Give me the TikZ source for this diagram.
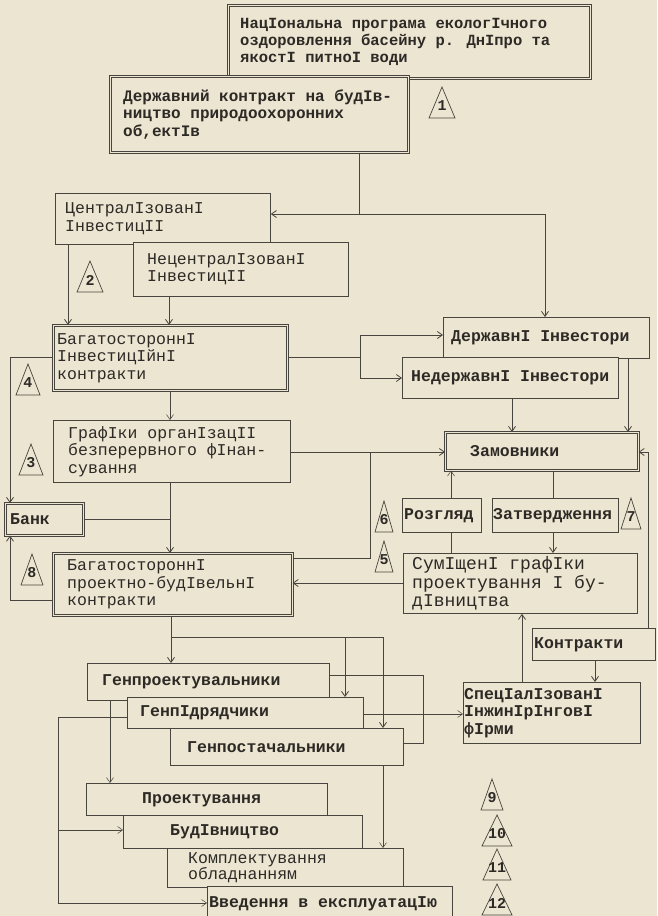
\documentclass[tikz,border=0pt]{standalone}
\usepackage{fontspec}
\newfontfamily\tw{Liberation Mono}
\usetikzlibrary{arrows.meta,positioning}
\definecolor{paper}{RGB}{236,229,210}
\definecolor{ink}{RGB}{72,68,62}
\definecolor{txt}{RGB}{45,42,38}
\newcommand\numtri[4]{%
  \node[trn] (#1) at (#2) {#3};
  \draw[tri] ([shift={(-#4,12)}]#1.center) -- ([shift={(0,-19)}]#1.center) -- ([shift={(#4,12)}]#1.center) -- cycle;}
\begin{document}
\begin{tikzpicture}[x=1pt,y=-1pt,
  bx/.style={draw=ink, fill=paper, line width=0.8pt, anchor=north west, inner sep=0pt},
  dbx/.style={bx, double=paper, double distance=1.4pt, line width=0.6pt},
  tx/.style={text=txt, font=\tw\fontsize{16.5pt}{17.5pt}\selectfont, align=left, inner sep=0pt},
  btx/.style={tx, font=\tw\bfseries\fontsize{16.5pt}{17.5pt}\selectfont},
  ln/.style={draw=ink, line width=0.8pt},
  ar/.style={ln, -{Straight Barb[length=5pt,width=7pt]}},
  tri/.style={draw=ink, line width=0.7pt},
  trn/.style={text=txt, font=\tw\bfseries\fontsize{15pt}{15pt}\selectfont, inner sep=0pt}]
\fill[paper] (0,0) rectangle (657,916);
\useasboundingbox (0,0) rectangle (657,916);

% boxes
\node[dbx, minimum width=362pt, minimum height=73pt] (A) at (228,5) {};
\node[btx, right=12pt of A.west, font=\tw\bfseries\fontsize{15.5pt}{17pt}\selectfont] (At) {НацIональна програма екологIчного\\оздоровлення басейну р. ДнIпро та\\якостI питноI води};
\node[dbx, minimum width=298pt, minimum height=76pt] (B) at (110,76) {};
\node[btx, right=13pt of B.west, font=\tw\bfseries\fontsize{16pt}{17.5pt}\selectfont] (Bt) {Державний контракт на будIв-\\ництво природоохоронних\\об,ектIв};
\node[bx, minimum width=215pt, minimum height=51pt] (C) at (55,193) {};
\node[tx, right=10pt of C.west] (Ct) {ЦентралIзованI\\IнвестицII};
\node[bx, minimum width=215pt, minimum height=54pt] (D) at (133,242) {};
\node[tx, right=14pt of D.west] (Dt) {НецентралIзованI\\IнвестицII};
\node[dbx, minimum width=234pt, minimum height=65pt] (E) at (53,325) {};
\node[tx, right=4pt of E.west] (Et) {БагатостороннI\\IнвестицIйнI\\контракти};
\node[bx, minimum width=206pt, minimum height=41pt] (F) at (443,317) {};
\node[btx, right=8pt of F.west] (Ft) {ДержавнI Iнвестори};
\node[bx, minimum width=216pt, minimum height=41pt] (G) at (402,357) {};
\node[btx, right=9pt of G.west] (Gt) {НедержавнI Iнвестори};
\node[bx, minimum width=237pt, minimum height=62pt] (K) at (53,420) {};
\node[tx, right=15pt of K.west] (Kt) {ГрафIки органIзацII\\безперервного фIнан-\\сування};
\node[dbx, minimum width=193pt, minimum height=38pt] (H) at (445,432) {};
\node[btx, right=25pt of H.west] (Ht) {Замовники};
\node[dbx, minimum width=78pt, minimum height=32pt] (Bank) at (5,503) {};
\node[btx, right=5pt of Bank.west] (Bankt) {Банк};
\node[bx, minimum width=79pt, minimum height=34pt] (R) at (402,498) {};
\node[btx, right=2pt of R.west] (Rt) {Розгляд};
\node[bx, minimum width=126pt, minimum height=34pt] (Z) at (492,498) {};
\node[btx, right=1pt of Z.west] (Zt) {Затвердження};
\node[dbx, minimum width=239pt, minimum height=62pt] (E2) at (53,553) {};
\node[tx, right=14pt of E2.west] (E2t) {БагатостороннI\\проектно-будIвельнI\\контракти};
\node[bx, minimum width=234pt, minimum height=60pt] (I) at (403,553) {};
\node[tx, right=9pt of I.west, font=\tw\fontsize{18pt}{18.5pt}\selectfont] (It) {СумIщенI графIки\\проектування I бу-\\дIвництва};
\node[bx, minimum width=123pt, minimum height=32pt] (Kon) at (532,628) {};
\node[btx, right=2pt of Kon.west] (Kont) {Контракти};
\node[bx, minimum width=177pt, minimum height=61pt] (J) at (463,682) {};
\node[btx, right=1pt of J.west] (Jt) {СпецIалIзованI\\IнжинIрIнговI\\фIрми};
\node[bx, minimum width=242pt, minimum height=37pt] (L1) at (87,663) {};
\node[btx, right=15pt of L1.west] (L1t) {Генпроектувальники};
\node[bx, minimum width=236pt, minimum height=31pt] (L2) at (127,697) {};
\node[btx, right=13pt of L2.west] (L2t) {ГенпIдрядчики};
\node[bx, minimum width=233pt, minimum height=37pt] (L3) at (170,728) {};
\node[btx, right=17pt of L3.west] (L3t) {Генпостачальники};
\node[bx, minimum width=241pt, minimum height=32pt] (P1) at (86,783) {};
\node[btx, right=56pt of P1.west] (P1t) {Проектування};
\node[bx, minimum width=239pt, minimum height=33pt] (P2) at (123,815) {};
\node[btx, right=47pt of P2.west] (P2t) {БудIвництво};
\node[bx, minimum width=236pt, minimum height=39pt] (P3) at (167,848) {};
\node[tx, right=21pt of P3.west, font=\tw\fontsize{16.5pt}{16pt}\selectfont] (P3t) {Комплектування\\обладнанням};
\node[bx, minimum width=245pt, minimum height=34pt] (P4) at (207,886) {};
\node[btx, right=2pt of P4.west] (P4t) {Введення в експлуатацIю};

% triangles
\numtri{t1}{442,106}{1}{13}
\numtri{t2}{90,280}{2}{13}
\numtri{t4}{28,383}{4}{12}
\numtri{t3}{31,463}{3}{12}
\numtri{t8}{32,573}{8}{11}
\numtri{t6}{384,520}{6}{9}
\numtri{t5}{384,560}{5}{9}
\numtri{t7}{631,517}{7}{10}
\numtri{t9}{492,798}{9}{11}
\numtri{t10}{497,834}{10}{15}
\numtri{t11}{497,868}{11}{14}
\numtri{t12}{497,903}{12}{15}

% named helper coordinates
\coordinate (jB) at (359,214);
\coordinate (xF) at (545,0);
\coordinate (x68) at (68,0);
\coordinate (x169) at (169,0);
\coordinate (jE) at (360,357);
\coordinate (yF) at (0,335);
\coordinate (yG) at (0,378);
\coordinate (x512) at (512,0);
\coordinate (x628) at (628,0);
\coordinate (x170) at (170,0);
\coordinate (xL) at (10,0);
\coordinate (yE) at (0,357);
\coordinate (yE2) at (0,600);
\coordinate (yH) at (0,452);
\coordinate (x370) at (370,0);
\coordinate (yE2r) at (0,558);
\coordinate (yI) at (0,583);
\coordinate (x451) at (451,0);
\coordinate (x553) at (553,0);
\coordinate (x648) at (648,0);
\coordinate (x595) at (595,0);
\coordinate (x522) at (522,0);
\coordinate (jG) at (171,637);
\coordinate (x345) at (345,0);
\coordinate (x383) at (383,0);
\coordinate (x423) at (423,0);
\coordinate (y675) at (0,675);
\coordinate (y743) at (0,743);
\coordinate (y714) at (0,714);
\coordinate (x110) at (110,0);
\coordinate (x58) at (58,0);
\coordinate (y717) at (0,717);
\coordinate (y830) at (0,830);
\coordinate (y903) at (0,903);

% connectors
\draw[ln] (B.south -| jB) -- (jB);
\draw[ar] (jB) -- (jB -| C.east);
\draw[ar] (jB) -| (F.north -| xF);
\draw[ar] (C.south -| x68) -- (E.north -| x68);
\draw[ar] (D.south -| x169) -- (E.north -| x169);
\draw[ln] (E.east |- jE) -- (jE);
\draw[ar] (jE) |- (F.west |- yF);
\draw[ar] (jE) |- (G.west |- yG);
\draw[ar] (G.south -| x512) -- (H.north -| x512);
\draw[ar] (F.south -| x628) -- (H.north -| x628);
\draw[ar, line width=0.5pt] (E.south -| x170) -- (K.north -| x170);
\draw[ar] (K.south -| x170) -- (E2.north -| x170);
\draw[ar] (E.west |- yE) -| (Bank.north -| xL);
\draw[ar] (E2.west |- yE2) -| (Bank.south -| xL);
\draw[ln] (Bank.east) -- (Bank.east -| x170);
\draw[ar] (K.east |- yH) -- (H.west |- yH);
\draw[ln] (E2.east |- yE2r) -| (x370 |- yH);
\draw[ar] (I.west |- yI) -- (E2.east |- yI);
\draw[ar, line width=0.5pt] (R.north -| x451) -- (H.south -| x451);
\draw[ln, line width=0.5pt] (I.north -| x451) -- (R.south -| x451);
\draw[ln] (H.south -| x553) -- (Z.north -| x553);
\draw[ar] (Z.south -| x553) -- (I.north -| x553);
\draw[ar] (Kon.north -| x648) |- (H.east |- yH);
\draw[ar] (Kon.south -| x595) -- (J.north -| x595);
\draw[ar] (J.north -| x522) -- (I.south -| x522);
\draw[ln] (E2.south -| jG) -- (jG) -- (jG -| x383);
\draw[ar] (jG) -- (L1.north -| jG);
\draw[ar] (jG -| x345) -- (L2.north -| x345);
\draw[ar] (jG -| x383) -- (L3.north -| x383);
\draw[ln, line width=0.5pt] (L1.east |- y675) -| (x423 |- y743) -- (L3.east |- y743);
\draw[ar, line width=0.5pt] (L2.east |- y714) -- (J.west |- y714);
\draw[ar, line width=0.5pt] (L1.south -| x110) -- (P1.north -| x110);
\draw[ln, line width=0.5pt] (L2.west |- y717) -| (x58 |- y903);
\draw[ar, line width=0.5pt] (x58 |- y830) -- (P2.west |- y830);
\draw[ar, line width=0.5pt] (x58 |- y903) -- (P4.west |- y903);
\draw[ar, line width=0.5pt] (L3.south -| x383) -- (P3.north -| x383);
\end{tikzpicture}
\end{document}
